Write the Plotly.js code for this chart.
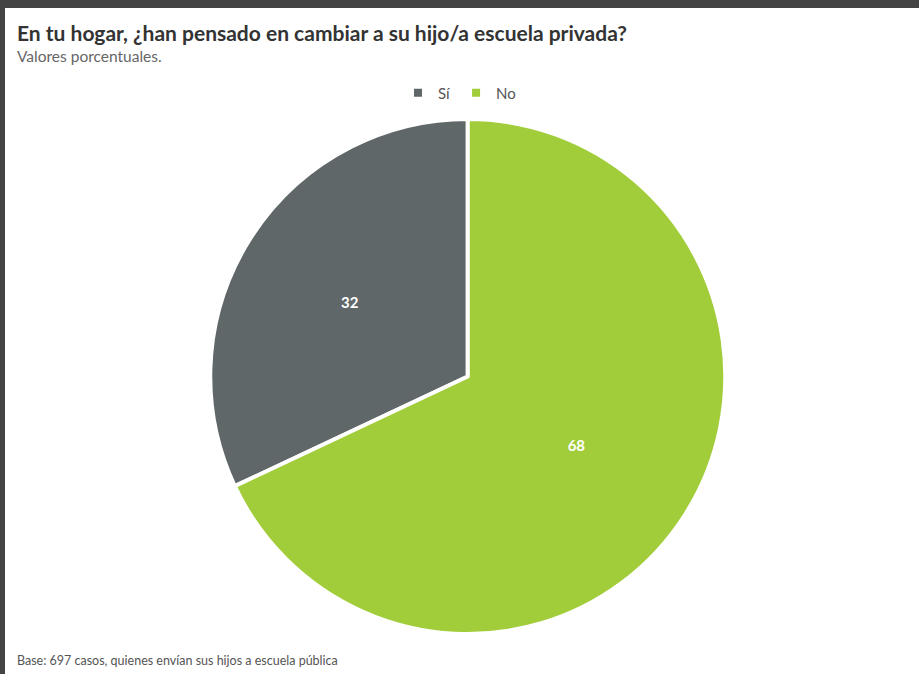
<!DOCTYPE html>
<html>
<head>
<meta charset="utf-8">
<script src="https://cdn.plot.ly/plotly-3.0.1.min.js"></script>
<style>
html,body{margin:0;padding:0;background:#fff;}
#chart{width:919px;height:674px;}
</style>
</head>
<body>
<div id="chart"></div>
<script>
const categories = ["Sí", "No"];
const values = [32, 68];
const colors = ["#5f6769", "#a2cd3a"];

const W = 919, H = 674;
const FONT = "Lato, 'Open Sans', sans-serif";
const total = values.reduce((a, b) => a + b, 0);
const trace = {
  type: "pie",
  labels: categories,
  values: values,
  sort: false,
  direction: "clockwise",
  rotation: -values[0] / total * 360,
  marker: {colors: colors, line: {color: "#ffffff", width: 4}},
  textinfo: "value",
  textposition: "inside",
  insidetextfont: {family: FONT, size: 15, color: "#ffffff", weight: "bold"},
  hoverinfo: "label+value",
  domain: {x: [0.018, 1], y: [40 / H, 555 / H]}
};

const layout = {
  width: W, height: H,
  margin: {l: 0, r: 0, t: 0, b: 0},
  paper_bgcolor: "#ffffff",
  showlegend: true,
  legend: {
    orientation: "h", x: 0.5, xanchor: "center", y: 1 - 93 / H, yanchor: "middle",
    font: {family: FONT, size: 15, color: "#555555"},
    traceorder: "normal", itemwidth: 30
  },
  title: {
    text: "<b>En tu hogar, ¿han pensado en cambiar a su hijo/a escuela privada?</b>",
    x: 17 / W, xanchor: "left", xref: "paper",
    y: 1 - 34 / H, yanchor: "middle", yref: "paper",
    font: {family: FONT, size: 21, color: "#333333"}
  },
  annotations: [
    {text: "Valores porcentuales.", xref: "paper", yref: "paper", x: 15 / W, y: 1 - 56 / H,
     xanchor: "left", yanchor: "middle", showarrow: false,
     font: {family: FONT, size: 15.5, color: "#666666"}},
    {text: "Base: 697 casos, quienes envían sus hijos a escuela pública", xref: "paper", yref: "paper",
     x: 15 / W, y: 1 - 660 / H, xanchor: "left", yanchor: "middle", showarrow: false,
     font: {family: FONT, size: 12.5, color: "#555555"}}
  ],
  shapes: [
    {type: "rect", xref: "paper", yref: "paper", x0: 0, x1: 1, y0: 1 - 8 / H, y1: 1,
     fillcolor: "#444444", line: {width: 0}},
    {type: "rect", xref: "paper", yref: "paper", x0: 0, x1: 5 / W, y0: 0, y1: 1,
     fillcolor: "#444444", line: {width: 0}}
  ]
};

Plotly.newPlot("chart", [trace], layout, {displayModeBar: false});
</script>
</body>
</html>
